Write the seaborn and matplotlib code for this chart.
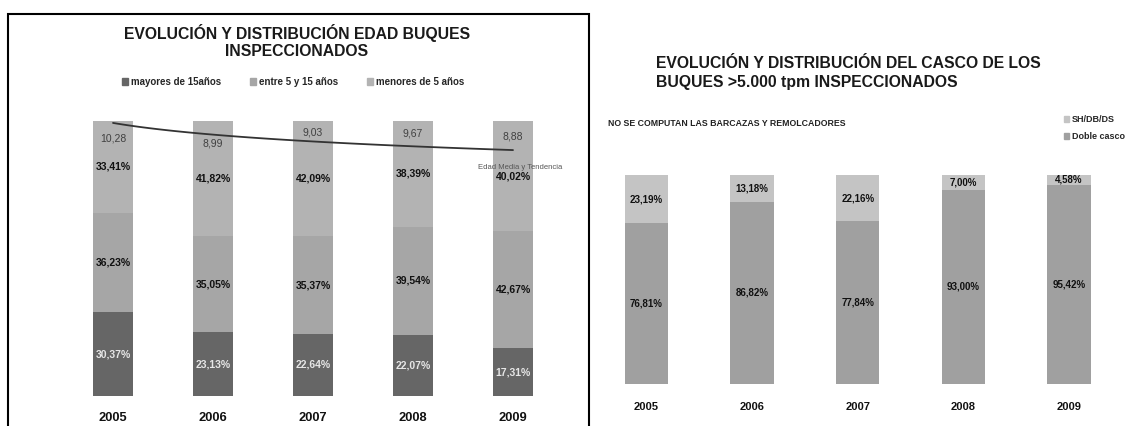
import numpy as np
import pandas as pd
import seaborn as sns
import matplotlib.pyplot as plt
from matplotlib.patches import Patch, Rectangle

# ---- data: left chart (age distribution of inspected ships, %) ----
years = ["2005", "2006", "2007", "2008", "2009"]
mayores_15 = [30.37, 23.13, 22.64, 22.07, 17.31]
entre_5_15 = [36.23, 35.05, 35.37, 39.54, 42.67]
menores_5 = [33.41, 41.82, 42.09, 38.39, 40.02]
edad_media = [10.28, 8.99, 9.03, 9.67, 8.88]

# ---- data: right chart (hull type of ships > 5.000 tpm, %) ----
sh_db_ds = [23.19, 13.18, 22.16, 7.00, 4.58]
doble_casco = [76.81, 86.82, 77.84, 93.00, 95.42]

# colours
C_DARK = "#666666"
C_MID = "#a6a6a6"
C_LIGHT = "#b3b3b3"
C_R_LIGHT = "#c4c4c4"
C_R_DARK = "#a0a0a0"

# vertical offsets (pixels) of the average-age labels
age_label_offsets = [-24, 6, 16, -3, 16]

sns.set_theme(style="white")
plt.rcParams["font.family"] = ["Liberation Sans", "DejaVu Sans"]

W, H = 1128, 426
fig = plt.figure(figsize=(W / 100, H / 100), dpi=100)


def fmt(v):
    return f"{v:.2f}".replace(".", ",")


# ================= left chart =================
df = pd.DataFrame({"year": years, "mayores": mayores_15,
                   "entre": entre_5_15, "menores": menores_5})
df["c1"] = df["mayores"]
df["c2"] = df["c1"] + df["entre"]
df["c3"] = df["c2"] + df["menores"]

ax1 = fig.add_axes([63 / W, 30 / H, 500 / W, 275 / H])
for col, color in [("c3", C_LIGHT), ("c2", C_MID), ("c1", C_DARK)]:
    sns.barplot(data=df, x="year", y=col, color=color, saturation=1,
                width=0.4, linewidth=0, edgecolor="none", ax=ax1)

for i, row in df.iterrows():
    ax1.text(i, row["c1"] / 2, fmt(row["mayores"]) + "%", ha="center",
             va="center", fontsize=7.5, weight="bold", color="#e6e6e6")
    ax1.text(i, row["c1"] + row["entre"] / 2, fmt(row["entre"]) + "%",
             ha="center", va="center", fontsize=7.5, weight="bold", color="#111111")
    ax1.text(i, row["c2"] + row["menores"] / 2, fmt(row["menores"]) + "%",
             ha="center", va="center", fontsize=7.5, weight="bold", color="#111111")

ax1.set_ylim(0, 100)
ax1.set_xlim(-0.5, 4.5)
ax1.set_xlabel("")
ax1.set_ylabel("")
ax1.set_yticks([])
ax1.tick_params(axis="x", length=0, pad=11.5, labelsize=9.3)
for lab in ax1.get_xticklabels():
    lab.set_fontweight("bold")
    lab.set_color("#111111")
sns.despine(ax=ax1, left=True, bottom=True)

# average age + logarithmic trend (secondary axis)
ax2 = ax1.twinx()
t = np.arange(1, len(edad_media) + 1)
b, a = np.polyfit(np.log(t), edad_media, 1)
xs = np.linspace(1, len(edad_media), 80)
sns.lineplot(x=xs - 1, y=a + b * np.log(xs), ax=ax2, color="#333333",
             linewidth=1.3)
for i, v in enumerate(edad_media):
    ax2.annotate(fmt(v), xy=(i, v), xytext=(0, age_label_offsets[i]),
                 textcoords="offset pixels", ha="center", va="center",
                 fontsize=7.5, color="#404040", annotation_clip=False)
ax2.set_ylim(-0.15, 10.04)
ax2.set_yticks([])
ax2.set_ylabel("")
sns.despine(ax=ax2, left=True, bottom=True, right=True)
fig.text(520 / W, 1 - 168 / H, "Edad Media y Tendencia", ha="center",
         va="center", fontsize=5.5, color="#555555")

fig.text(297 / W, 1 - 33 / H, "EVOLUCIÓN Y DISTRIBUCIÓN EDAD BUQUES",
         ha="center", va="center", fontsize=11.3, weight="bold", color="#1a1a1a")
fig.text(297 / W, 1 - 52 / H, "INSPECCIONADOS",
         ha="center", va="center", fontsize=11.3, weight="bold", color="#1a1a1a")

handles = [Patch(color=C_DARK, label="mayores de 15años"),
           Patch(color=C_MID, label="entre 5 y 15 años"),
           Patch(color=C_LIGHT, label="menores de 5 años")]
fig.legend(handles=handles, loc="center", bbox_to_anchor=(293 / W, 1 - 82 / H),
           ncol=3, frameon=False, handlelength=0.65, handleheight=0.65,
           handletextpad=0.25, columnspacing=3.0,
           prop={"size": 7, "weight": "bold"})

fig.add_artist(Rectangle((8 / W, -0.1), (589 - 8) / W, 0.1 + 1 - 14 / H,
                         transform=fig.transFigure, fill=False,
                         edgecolor="black", linewidth=1.5))

# ================= right chart =================
dr = pd.DataFrame({"year": years, "sh": sh_db_ds, "doble": doble_casco})
dr["c1"] = dr["doble"]
dr["c2"] = dr["c1"] + dr["sh"]

ax3 = fig.add_axes([593.7 / W, 42.5 / H, 528.1 / W, 208.5 / H])
for col, color in [("c2", C_R_LIGHT), ("c1", C_R_DARK)]:
    sns.barplot(data=dr, x="year", y=col, color=color, saturation=1,
                width=0.41, linewidth=0, edgecolor="none", ax=ax3)
for i, row in dr.iterrows():
    ax3.text(i, row["c1"] / 2, fmt(row["doble"]) + "%", ha="center",
             va="center", fontsize=7, weight="bold", color="#111111")
    ax3.text(i, row["c1"] + row["sh"] / 2, fmt(row["sh"]) + "%", ha="center",
             va="center", fontsize=7, weight="bold", color="#111111")
ax3.set_ylim(0, 100)
ax3.set_xlim(-0.5, 4.5)
ax3.set_xlabel("")
ax3.set_ylabel("")
ax3.set_yticks([])
ax3.tick_params(axis="x", length=0, pad=13, labelsize=8)
for lab in ax3.get_xticklabels():
    lab.set_fontweight("bold")
    lab.set_color("#111111")
sns.despine(ax=ax3, left=True, bottom=True)

fig.text(656 / W, 1 - 63 / H, "EVOLUCIÓN Y DISTRIBUCIÓN DEL CASCO DE LOS",
         ha="left", va="center", fontsize=11.3, weight="bold", color="#1a1a1a")
fig.text(656 / W, 1 - 83 / H, "BUQUES >5.000 tpm INSPECCIONADOS",
         ha="left", va="center", fontsize=11.3, weight="bold", color="#1a1a1a")
fig.text(608 / W, 1 - 123 / H, "NO SE COMPUTAN LAS BARCAZAS Y REMOLCADORES",
         ha="left", va="center", fontsize=6.3, weight="bold", color="#222222")

rhandles = [Patch(color=C_R_LIGHT, label="SH/DB/DS"),
            Patch(color=C_R_DARK, label="Doble casco")]
fig.legend(handles=rhandles, loc="upper left",
           bbox_to_anchor=(1064 / W, 1 - 115 / H), frameon=False,
           handlelength=0.6, handleheight=0.6, handletextpad=0.3,
           labelspacing=0.9, borderaxespad=0, borderpad=0,
           prop={"size": 6.5, "weight": "bold"})

fig.savefig("out.png", dpi=100)
